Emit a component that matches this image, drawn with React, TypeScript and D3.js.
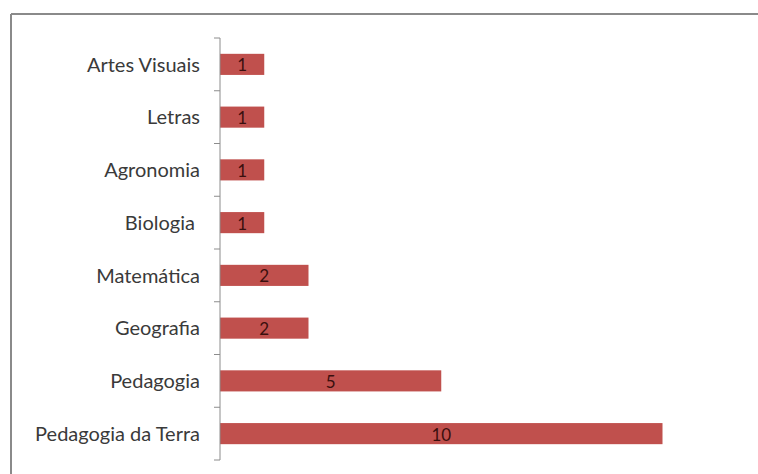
import React from "react";
import * as d3 from "d3";

const categories = [
  "Artes Visuais",
  "Letras",
  "Agronomia",
  "Biologia\u00A0",
  "Matemática",
  "Geografia",
  "Pedagogia",
  "Pedagogia da Terra",
];
const values = [1, 1, 1, 1, 2, 2, 5, 10];

const W = 758;
const H = 474;

export default function App() {
  const x = d3.scaleLinear().domain([0, 10]).range([220, 662.5]);
  const y = d3.scaleBand().domain(categories).range([38, 460]).paddingInner(0.6).paddingOuter(0.3);
  const band = d3.scaleBand().domain(categories).range([38, 460]);
  const tickYs = categories.map((c) => band(c) as number).concat([460]);
  const font = "Lato, 'Open Sans', sans-serif";
  return (
    <svg
      width={W}
      height={H}
      style={{ position: "absolute", left: 0, top: 0, background: "#fff" }}
    >
      <rect x={0} y={0} width={W} height={H} fill="#fff" />
      {/* frame */}
      <line x1={11} y1={14} x2={W} y2={14} stroke="#8a8a8a" strokeWidth={2} />
      <line x1={11} y1={14} x2={11} y2={H} stroke="#8a8a8a" strokeWidth={2} />
      {/* bars */}
      {categories.map((c, i) => (
        <g key={c}>
          <rect
            x={x(0)}
            y={y(c) as number}
            width={x(values[i]) - x(0)}
            height={y.bandwidth()}
            fill="#C0504D"
          />
          <text
            x={(x(0) + x(values[i])) / 2}
            y={(y(c) as number) + y.bandwidth() / 2 + 1}
            dy="0.36em"
            textAnchor="middle"
            fontFamily={font}
            fontSize={17}
            fill="#3b0f0e"
          >
            {values[i]}
          </text>
          <text
            x={200}
            y={(band(c) as number) + band.bandwidth() / 2}
            dy="0.36em"
            textAnchor="end"
            fontFamily={font}
            fontSize={20}
            fill="#3a3a3a"
          >
            {c}
          </text>
        </g>
      ))}
      {/* axis */}
      <line x1={x(0)} y1={38} x2={x(0)} y2={460} stroke="#8c8c8c" strokeWidth={1} />
      {tickYs.map((t, i) => (
        <line key={i} x1={x(0) - 6} y1={t} x2={x(0)} y2={t} stroke="#8c8c8c" strokeWidth={1} />
      ))}
    </svg>
  );
}
